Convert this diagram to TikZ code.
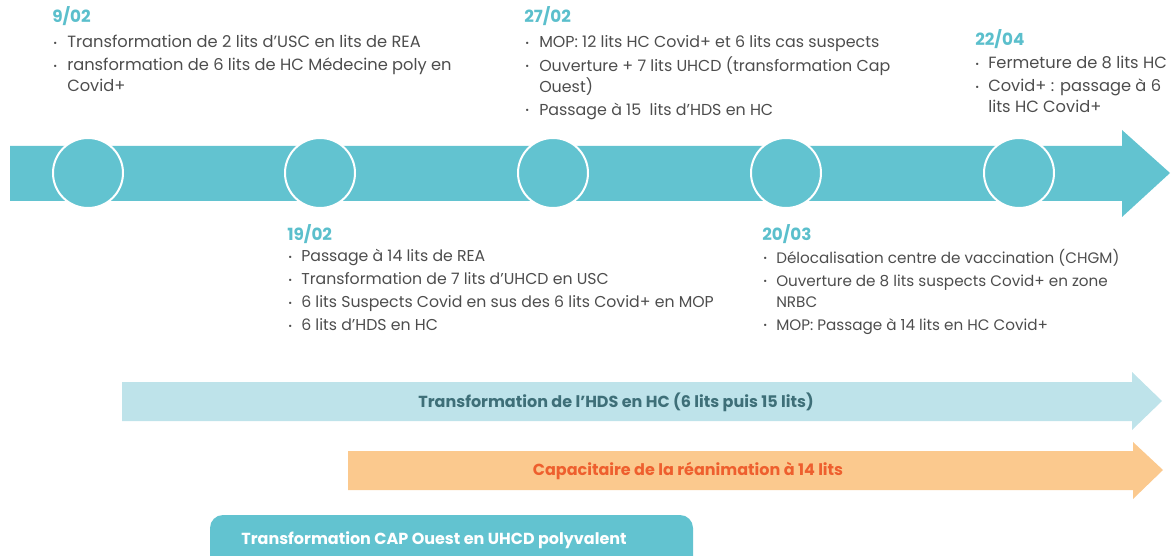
\documentclass[tikz,border=0pt]{standalone}
\usepackage{fontspec}
\setmainfont{Poppins}
\newlength\px \setlength\px{0.75pt}
\definecolor{tealmain}{HTML}{62C3D0}
\definecolor{datecol}{HTML}{5BBFCC}
\definecolor{bodycol}{HTML}{4D4D4D}
\definecolor{lightblue}{HTML}{BEE3EA}
\definecolor{hdstext}{HTML}{3E6F78}
\definecolor{orangefill}{HTML}{FBC98E}
\definecolor{orangetext}{HTML}{EE5F2E}
\newcommand\bul{\raisebox{0.12em}{\fontsize{7}{7}\selectfont\textbullet}}
\tikzset{
  datelbl/.style={anchor=base west, inner sep=0pt, text=datecol, font=\fontsize{12.6}{14}\selectfont\bfseries},
  listlbl/.style={anchor=base west, inner sep=0pt, text=bodycol},
  dot/.style={circle, fill=tealmain, draw=white, line width=2\px, minimum width=70\px, inner sep=0pt},
  arrowlbl/.style={inner sep=0pt, font=\fontsize{12}{14}\selectfont\bfseries},
}
\begin{document}
\begin{tikzpicture}[x=0.75pt,y=-0.75pt]
\useasboundingbox (0,0) rectangle (1175,556);
% main timeline arrow
\fill[tealmain] (10,146) -- (1122,146) -- (1122,130) -- (1170,173) -- (1122,217) -- (1122,201) -- (10,201) -- cycle;
\node[dot] (c1) at (88,173) {};
\node[dot] (c2) at (320,173) {};
\node[dot] (c3) at (553,173) {};
\node[dot] (c4) at (786,173) {};
\node[dot] (c5) at (1019,173) {};
% 9/02
\node[datelbl] (d1) at (52,23) {9/02};
\node[listlbl, font=\fontsize{12.2}{15.75}\selectfont] (l1) at (53,48) {\begin{tabular}[t]{@{}p{14\px}@{}l@{}}
\bul & Transformation de 2 lits d’USC en lits de REA\\[2\px]
\bul & ransformation de 6 lits de HC Médecine poly en\\
 & Covid+
\end{tabular}};
% 27/02
\node[datelbl] (d3) at (524,23) {27/02};
\node[listlbl, font=\fontsize{11.9}{15.75}\selectfont] (l3) at (525,48) {\begin{tabular}[t]{@{}p{14\px}@{}l@{}}
\bul & MOP: 12 lits HC Covid+ et 6 lits cas suspects\\[2\px]
\bul & Ouverture + 7 lits UHCD (transformation Cap\\
 & Ouest)\\[2\px]
\bul & Passage à 15\ \ lits d’HDS en HC
\end{tabular}};
% 22/04
\node[datelbl] (d5) at (975,46) {22/04};
\node[listlbl, font=\fontsize{12.2}{15.75}\selectfont] (l5) at (975,69) {\begin{tabular}[t]{@{}p{13\px}@{}l@{}}
\bul & Fermeture de 8 lits HC\\[2\px]
\bul & Covid+ : passage à 6\\
 & lits HC Covid+
\end{tabular}};
% 19/02
\node[datelbl] (d2) at (287,240) {19/02};
\node[listlbl, font=\fontsize{11.8}{15.75}\selectfont] (l2) at (288,262) {\begin{tabular}[t]{@{}p{13\px}@{}l@{}}
\bul & Passage à 14 lits de REA\\[2\px]
\bul & Transformation de 7 lits d’UHCD en USC\\[2\px]
\bul & 6 lits Suspects Covid en sus des 6 lits Covid+ en MOP\\[2\px]
\bul & 6 lits d’HDS en HC
\end{tabular}};
% 20/03
\node[datelbl] (d4) at (762,240) {20/03};
\node[listlbl, font=\fontsize{11.4}{15.75}\selectfont] (l4) at (763,263) {\begin{tabular}[t]{@{}p{13\px}@{}l@{}}
\bul & Délocalisation centre de vaccination (CHGM)\\[2\px]
\bul & Ouverture de 8 lits suspects Covid+ en zone\\
 & NRBC\\[2\px]
\bul & MOP: Passage à 14 lits en HC Covid+
\end{tabular}};
% HDS arrow
\fill[lightblue] (122,382) -- (1132,382) -- (1132,372) -- (1162,401) -- (1132,430) -- (1132,421) -- (122,421) -- cycle;
\node[arrowlbl, text=hdstext] (hds) at (616,402) {Transformation de l’HDS en HC (6 lits puis 15 lits)};
% REA arrow
\fill[orangefill] (348,451) -- (1133,451) -- (1133,442) -- (1163,470) -- (1133,499) -- (1133,490) -- (348,490) -- cycle;
\node[arrowlbl, text=orangetext] (rea) at (688,471) {Capacitaire de la réanimation à 14 lits};
% CAP Ouest box
\begin{scope}
\clip (0,0) rectangle (1175,556);
\fill[tealmain, rounded corners=13\px] (210,515) rectangle (693,590);
\end{scope}
\node[arrowlbl, text=white] (cap) at (434,540) {Transformation CAP Ouest en UHCD polyvalent};
\end{tikzpicture}
\end{document}
